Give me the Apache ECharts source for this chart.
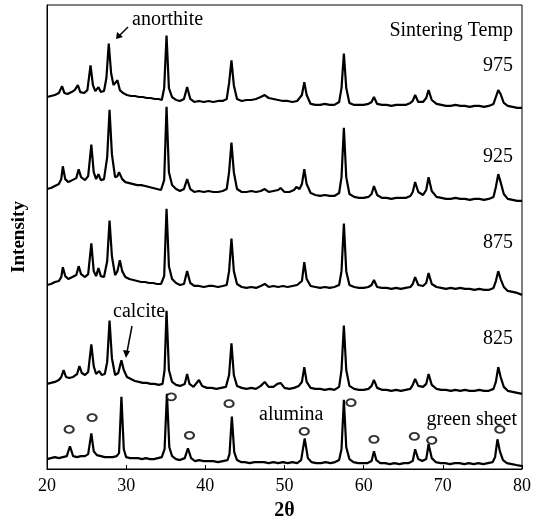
<!DOCTYPE html>
<html>
<head>
<meta charset="utf-8">
<script src="https://cdn.jsdelivr.net/npm/echarts@6/dist/echarts.min.js"></script>
<style>html,body{margin:0;padding:0;background:#fff}#c{width:544px;height:526px}</style>
</head>
<body>
<div id="c"></div>
<script>
// x axis ticks (2θ, degrees)
var xTicks = [20, 30, 40, 50, 60, 70, 80];
// series names (sintering temperature)
var seriesNames = ['green sheet', '825', '875', '925', '975'];

// traces: [2θ, intensity (arbitrary, stacked offset already included)]
var greenSheet = [[20,10],[20.5,11],[21,12],[21.5,11],[22,12],[22.5,13],[22.9,23],[23.3,13],[23.8,12],[24.3,13],[24.8,13],[25.2,15],[25.6,36],[25.9,18],[26.3,14],[26.8,13],[27.3,12],[27.8,12],[28.3,12],[28.8,13],[29.1,16],[29.4,73],[29.7,20],[30,12],[30.5,11],[31,11],[31.5,11],[32,10],[32.5,11],[33,10],[33.5,10],[34,11],[34.5,12],[34.85,20],[35.15,76],[35.45,22],[35.8,13],[36.3,10],[36.8,9],[37.4,11],[37.8,21],[38.2,11],[38.7,8],[39.2,9],[39.8,8],[40.4,8],[41,8],[41.6,7],[42.2,8],[42.8,9],[43.05,15],[43.35,53],[43.65,17],[44,9],[44.5,7],[45,7],[45.6,6],[46.2,7],[46.8,7],[47.4,7],[48,6],[48.6,7],[49.2,6],[49.8,7],[50.4,6],[51,7],[51.6,6],[52.1,9],[52.55,31],[52.95,11],[53.4,7],[54,6],[54.6,6],[55.2,7],[55.8,6],[56.4,7],[56.9,9],[57.2,20],[57.5,70],[57.8,22],[58.2,10],[58.7,7],[59.3,6],[59.9,6],[60.5,6],[61,8],[61.3,18],[61.6,9],[62.1,6],[62.7,6],[63.3,5],[63.9,6],[64.5,5],[65.1,6],[65.7,6],[66.2,8],[66.5,20],[66.9,10],[67.4,8],[67.9,10],[68.2,25],[68.6,11],[69.1,7],[69.7,6],[70.3,6],[70.9,5],[71.5,6],[72.1,6],[72.7,5],[73.3,6],[73.9,5],[74.5,6],[75.1,5],[75.7,6],[76.3,7],[76.6,12],[76.9,30],[77.2,18],[77.6,9],[78.1,6],[78.7,5],[79.3,4],[80,3]];

var t825 = [[20,86],[20.5,87],[21,88],[21.5,90],[21.8,93],[22.1,100],[22.4,93],[22.8,92],[23.3,93],[23.8,96],[24.1,104],[24.4,97],[24.8,95],[25.2,98],[25.6,126],[25.9,104],[26.2,96],[26.6,99],[26.9,95],[27.3,96],[27.6,108],[27.9,150],[28.2,112],[28.6,95],[29,97],[29.4,110],[29.7,100],[30.1,93],[30.6,91],[31.1,89],[31.6,88],[32.1,87],[32.6,87],[33.1,86],[33.6,86],[34.1,85],[34.6,86],[34.85,100],[35.1,160],[35.4,100],[35.8,88],[36.3,85],[36.8,84],[37.4,86],[37.7,96],[38,86],[38.5,83],[39.2,90],[39.6,84],[40.2,82],[40.8,82],[41.4,81],[42,82],[42.6,83],[43,95],[43.3,127],[43.6,95],[44,84],[44.6,82],[45.2,81],[45.8,82],[46.4,81],[47,84],[47.5,88],[48,83],[48.6,83],[49.1,86],[49.5,87],[50,82],[50.6,81],[51.2,82],[51.8,84],[52.2,88],[52.5,103],[52.8,88],[53.3,82],[53.9,81],[54.5,81],[55.1,80],[55.7,81],[56.3,80],[56.9,83],[57.2,100],[57.5,145],[57.8,100],[58.2,84],[58.8,81],[59.4,80],[60,80],[60.6,81],[61,84],[61.3,90],[61.7,82],[62.3,80],[62.9,80],[63.5,79],[64.1,80],[64.7,79],[65.3,80],[65.9,81],[66.2,85],[66.5,91],[66.9,84],[67.5,83],[67.9,86],[68.2,96],[68.6,85],[69.2,81],[69.8,80],[70.4,80],[71,79],[71.6,80],[72.2,79],[72.8,80],[73.4,79],[74,79],[74.6,80],[75.2,79],[75.8,79],[76.4,81],[76.7,88],[77,103],[77.3,93],[77.7,83],[78.2,79],[78.8,78],[79.4,77],[80,76]];

var t875 = [[20,186],[20.5,187],[21,189],[21.5,190],[21.8,194],[22,204],[22.3,195],[22.7,192],[23.2,194],[23.7,196],[24,205],[24.3,197],[24.8,194],[25.2,197],[25.6,228],[25.9,200],[26.2,195],[26.5,203],[26.8,195],[27.2,194],[27.6,210],[27.9,251],[28.2,215],[28.6,196],[28.9,200],[29.2,211],[29.5,200],[29.9,194],[30.4,192],[30.9,191],[31.4,190],[31.9,189],[32.4,189],[32.9,188],[33.4,188],[33.9,187],[34.4,187],[34.8,195],[35.1,263],[35.4,205],[35.8,192],[36.3,188],[36.8,186],[37.3,187],[37.7,200],[38.1,188],[38.6,185],[39.2,185],[39.8,184],[40.4,185],[41,185],[41.6,184],[42.2,185],[42.7,186],[43,200],[43.3,233],[43.6,200],[44,187],[44.6,184],[45.2,183],[45.8,184],[46.4,183],[47,185],[47.5,187],[48,184],[48.6,185],[49.2,184],[49.8,185],[50.4,184],[51,185],[51.6,186],[52.2,190],[52.5,209],[52.8,192],[53.3,185],[53.9,184],[54.5,183],[55.1,184],[55.7,183],[56.3,184],[56.9,186],[57.2,200],[57.5,248],[57.8,200],[58.2,186],[58.8,184],[59.4,183],[60,183],[60.6,184],[61,186],[61.3,191],[61.7,184],[62.3,183],[62.9,183],[63.5,182],[64.1,183],[64.7,182],[65.3,183],[65.9,184],[66.2,187],[66.5,194],[66.9,186],[67.5,185],[67.9,188],[68.2,198],[68.6,187],[69.2,184],[69.8,183],[70.4,182],[71,183],[71.6,182],[72.2,183],[72.8,182],[73.4,182],[74,181],[74.6,182],[75.2,181],[75.8,181],[76.4,183],[76.7,190],[77,200],[77.3,192],[77.7,184],[78.2,180],[78.8,179],[79.4,178],[80,176]];

var t925 = [[20,283],[20.5,284],[21,286],[21.5,288],[21.8,293],[22,306],[22.3,293],[22.7,290],[23.2,292],[23.7,294],[24,303],[24.3,295],[24.8,292],[25.2,296],[25.6,328],[25.9,300],[26.2,293],[26.5,298],[26.8,292],[27.2,293],[27.6,315],[27.9,363],[28.2,318],[28.6,295],[28.9,296],[29.1,300],[29.5,293],[29.9,290],[30.4,289],[30.9,288],[31.4,287],[31.9,287],[32.4,286],[32.9,285],[33.4,284],[33.9,283],[34.4,282],[34.8,292],[35.1,366],[35.4,300],[35.8,287],[36.3,283],[36.8,281],[37.3,283],[37.7,293],[38.1,283],[38.6,280],[39.2,281],[39.8,280],[40.4,281],[41,280],[41.6,280],[42.2,281],[42.7,283],[43,300],[43.3,330],[43.6,300],[44,283],[44.6,280],[45.2,280],[45.8,281],[46.4,280],[47,281],[47.5,283],[48,280],[48.6,281],[49.2,282],[49.5,284],[50,280],[50.6,280],[51.2,282],[51.5,285],[51.9,283],[52.2,288],[52.5,303],[52.8,288],[53.3,279],[53.9,277],[54.5,276],[55.1,277],[55.7,276],[56.3,276],[56.9,279],[57.2,295],[57.5,345],[57.8,295],[58.2,278],[58.8,275],[59.4,274],[60,274],[60.6,275],[61,278],[61.3,286],[61.7,277],[62.3,274],[62.9,274],[63.5,273],[64.1,274],[64.7,274],[65.3,274],[65.9,276],[66.2,280],[66.5,290],[66.9,280],[67.5,277],[67.9,282],[68.2,295],[68.6,281],[69.2,275],[69.8,274],[70.4,273],[71,273],[71.6,274],[72.2,273],[72.8,273],[73.4,272],[74,273],[74.6,273],[75.2,272],[75.8,273],[76.4,275],[76.7,285],[77,298],[77.3,290],[77.7,278],[78.2,273],[78.8,272],[79.4,271],[80,271]];

var t975 = [[20,376],[20.5,377],[21,378],[21.5,380],[21.9,387],[22.2,380],[22.6,379],[23.1,381],[23.5,383],[23.9,388],[24.2,381],[24.7,380],[25.1,383],[25.5,408],[25.8,388],[26.1,382],[26.5,386],[26.8,381],[27.2,382],[27.5,395],[27.8,430],[28.1,400],[28.4,388],[28.9,393],[29.2,383],[29.6,380],[30.1,378],[30.6,377],[31.1,377],[31.6,376],[32.1,376],[32.6,375],[33.1,375],[33.6,374],[34.1,374],[34.5,373],[34.8,385],[35.1,438],[35.4,385],[35.8,376],[36.3,373],[36.8,372],[37.3,374],[37.7,386],[38.1,374],[38.6,371],[39.2,372],[39.8,371],[40.4,372],[41,371],[41.6,372],[42.2,372],[42.7,374],[43,390],[43.3,413],[43.6,388],[44,374],[44.6,372],[45.2,373],[45.8,373],[46.4,374],[47,376],[47.5,378],[48,375],[48.6,374],[49.2,373],[49.8,372],[50.4,372],[51,371],[51.6,372],[52.2,378],[52.5,391],[52.8,378],[53.3,369],[53.9,368],[54.5,368],[55.1,369],[55.7,368],[56.3,368],[56.9,371],[57.2,385],[57.5,420],[57.8,385],[58.2,370],[58.8,368],[59.4,368],[60,368],[60.6,369],[61,371],[61.3,376],[61.7,369],[62.3,368],[62.9,368],[63.5,367],[64.1,368],[64.7,368],[65.3,368],[65.9,370],[66.2,372],[66.5,378],[66.9,371],[67.5,371],[67.9,375],[68.2,383],[68.6,373],[69.2,369],[69.8,368],[70.4,367],[71,367],[71.6,368],[72.2,367],[72.8,367],[73.4,366],[74,367],[74.6,367],[75.2,366],[75.8,367],[76.4,369],[76.7,376],[77,383],[77.3,379],[77.7,370],[78.2,367],[78.8,366],[79.4,365],[80,365]];

// alumina reflection markers (open circles) above the green sheet trace
var aluminaMarks = [[22.8,40],[25.7,52],[35.7,73],[38.0,34],[43.0,66],[52.5,38],[58.4,67],[61.3,30],[66.4,33],[68.6,29],[77.2,40]];

var chart = echarts.init(document.getElementById('c'), null, {renderer: 'canvas'});
var serif = '"Liberation Serif", "DejaVu Serif", serif';
var traces = [greenSheet, t825, t875, t925, t975];

var series = traces.map(function (d, i) {
  return {
    name: seriesNames[i], type: 'line', data: d, showSymbol: false,
    lineStyle: {color: '#000', width: 2.2}, silent: true, z: 2
  };
});
series.push({
  name: 'alumina', type: 'scatter', data: aluminaMarks,
  symbol: 'emptyCircle', symbolSize: [9, 7],
  itemStyle: {color: '#000', borderColor: '#000', borderWidth: 1.6}, z: 3
});

function txt(x, y, s, align, size, weight) {
  return {type: 'text', x: x, y: y, z: 10,
    style: {text: s, fill: '#000', font: (weight || 'normal') + ' ' + size + 'px ' + serif,
      textAlign: align || 'left', textVerticalAlign: 'middle'}};
}

chart.setOption({
  animation: false,
  backgroundColor: '#fff',
  grid: {left: 47, right: 22, top: 5, bottom: 52, show: true, borderColor: '#000', borderWidth: 1},
  xAxis: {
    type: 'value', min: 20, max: 80, interval: 10,
    name: '2θ', nameLocation: 'middle', nameGap: 32,
    nameTextStyle: {fontFamily: serif, fontSize: 20, fontWeight: 'bold', color: '#000'},
    axisLine: {lineStyle: {color: '#000', width: 1}},
    axisTick: {inside: true, length: 4, lineStyle: {color: '#000'}},
    axisLabel: {fontFamily: serif, fontSize: 18, color: '#000', margin: 8,
      formatter: function (v) { return xTicks.indexOf(v) >= 0 ? String(v) : ''; }},
    splitLine: {show: false}
  },
  yAxis: {
    type: 'value', min: 0, max: 469,
    name: 'Intensity', nameLocation: 'middle', nameGap: 18, nameRotate: 90,
    nameTextStyle: {fontFamily: serif, fontSize: 19, fontWeight: 'bold', color: '#000'},
    axisLine: {show: true, lineStyle: {color: '#000'}},
    axisTick: {show: false}, axisLabel: {show: false}, splitLine: {show: false}
  },
  series: series,
  graphic: [
    txt(513, 31, 'Sintering Temp', 'right', 20),
    txt(513, 66, '975', 'right', 20),
    txt(513, 157, '925', 'right', 20),
    txt(513, 243, '875', 'right', 20),
    txt(513, 339, '825', 'right', 20),
    txt(517, 420, 'green sheet', 'right', 20),
    txt(259, 415, 'alumina', 'left', 20),
    txt(113, 312, 'calcite', 'left', 20),
    txt(132, 20, 'anorthite', 'left', 20),
    {type: 'line', shape: {x1: 128, y1: 27, x2: 119, y2: 36}, style: {stroke: '#000', lineWidth: 1.5}, z: 10},
    {type: 'polygon', shape: {points: [[116, 39], [117, 32], [123, 37]]}, style: {fill: '#000'}, z: 10},
    {type: 'line', shape: {x1: 132, y1: 326, x2: 127, y2: 352}, style: {stroke: '#000', lineWidth: 1.5}, z: 10},
    {type: 'polygon', shape: {points: [[126, 358], [123, 350], [130, 351]]}, style: {fill: '#000'}, z: 10}
  ]
});
</script>
</body>
</html>
